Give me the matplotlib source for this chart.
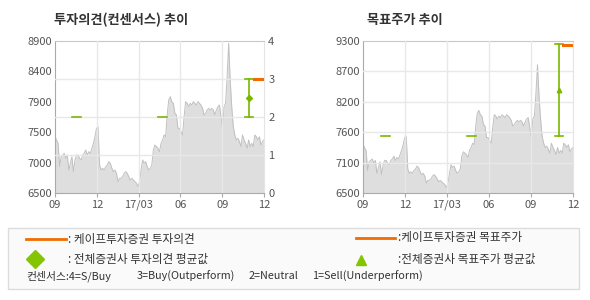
import numpy as np
import matplotlib
matplotlib.use('Agg')
import matplotlib.pyplot as plt
from matplotlib.lines import Line2D
from matplotlib.patches import Rectangle

plt.rcParams['font.family'] = ['Noto Sans CJK KR', 'DejaVu Sans']

# daily close (approx), Sep 2016 - Dec 2017
price = [7389, 7337, 7284, 6916, 7074, 7100, 7126, 7047, 7100, 6863, 6968, 7074, 6837, 7021, 7100,
         7100, 7047, 7021, 7100, 7126, 7179, 7100, 7153, 7126, 7205, 7284, 7389, 7521, 7547, 6942,
         6863, 6889, 6863, 6916, 6942, 6995, 6968, 6889, 6837, 6863, 6811, 6679, 6732, 6732, 6758,
         6811, 6837, 6811, 6758, 6705, 6732, 6705, 6679, 6653, 6600, 6679, 6863,
         7021, 6968, 6995, 6916, 6863, 6889, 6942, 7179, 7258, 7232, 7205, 7153, 7284, 7337, 7416,
         7389, 7732, 7968, 8021, 7942, 7916, 7758, 7732, 7521, 7521, 7468, 7416, 7705, 7942, 7916,
         7863, 7916, 7889, 7942, 7916, 7889, 7942, 7916, 7889, 7837, 7732, 7758, 7810, 7837, 7810,
         7837, 7810, 7732, 7810, 7863, 7889, 7705, 7521, 7863, 7916, 8337, 8863, 8284, 7863, 7547,
         7416, 7337, 7363, 7311, 7232, 7416, 7337, 7284, 7205, 7337, 7232, 7284, 7232, 7416, 7389,
         7337, 7389, 7258, 7311, 7337]

month_ticks = [0, 3, 6, 9, 12, 15]
month_labels = ['09', '12', '17/03', '06', '09', '12']

# left chart
left_ylabels = ['6500', '7000', '7500', '7900', '8400', '8900']
opinion_hist_x = [(1.22, 1.87), (7.39, 8.04)]
opinion_hist = [2, 2]
opinion_x = 13.92
opinion_lo, opinion_hi, opinion_avg = 2, 3, 2.5
kape_opinion_x = (14.28, 14.93)
kape_opinion = 3

# right chart
right_ylabels = ['6500', '7100', '7600', '8200', '8700', '9300']
target_hist_x = [(1.29, 1.93), (7.43, 8.07)]
target_hist = [7550, 7550]
target_x = 14.0
target_lo, target_hi, target_avg = 7550, 9250, 8400
kape_target_x = (14.29, 14.91)
kape_target = 9230

consensus_parts = ['컨센서스:4=S/Buy', '3=Buy(Outperform)', '2=Neutral', '1=Sell(Underperform)']
consensus_pos = [26, 137, 249, 312]

GREEN = '#7ab800'
ORANGE = '#f06c00'
GRID = '#e8e8e8'
TXT = '#555555'

fig = plt.figure(figsize=(5.9, 3.0), dpi=100)
x = np.linspace(0, 15, len(price))


def base_axes(rect, ymin, ymax, ylabels):
    ax = fig.add_axes(rect)
    ax.fill_between(x, ymin, price, color='#dedede', lw=0, zorder=1)
    ax.plot(x, price, color='#c0c0c0', lw=0.7, zorder=2)
    ax.set_xlim(0, 15)
    ax.set_ylim(ymin, ymax)
    ax.set_xticks(month_ticks)
    ax.set_xticklabels(month_labels)
    ax.set_yticks(np.linspace(ymin, ymax, 6))
    ax.set_yticklabels(ylabels)
    for xv in month_ticks[1:-1]:
        ax.axvline(xv, color=GRID, lw=1.0, zorder=3)
    ax.tick_params(axis='both', labelsize=8, colors=TXT, length=3, width=0.8)
    ax.tick_params(axis='y', length=0, pad=2)
    ax.tick_params(axis='x', color='#aaaaaa', pad=2)
    for s in ['left', 'bottom']:
        ax.spines[s].set_color('#aaaaaa')
    ax.spines['top'].set_color('#c8c8c8')
    ax.spines['right'].set_color('#e4e4e4')
    return ax


# ---- left: 투자의견 ----
ax1 = base_axes([55 / 590, 0.3567, 209 / 590, 0.5067], 6500, 8900, left_ylabels)
ax1b = ax1.twinx()
ax1b.set_ylim(0, 4)
ax1b.set_yticks([0, 1, 2, 3, 4])
ax1b.tick_params(axis='y', labelsize=8, colors=TXT, length=0, pad=3)
for s in ax1b.spines.values():
    s.set_visible(False)
for yv in [1, 2, 3]:
    ax1b.axhline(yv, color=GRID, lw=1.0, zorder=3)
for (a, b), v in zip(opinion_hist_x, opinion_hist):
    ax1b.plot([a, b], [v, v], color=GREEN, lw=1.2, zorder=5)
ax1b.plot([opinion_x, opinion_x], [opinion_lo, opinion_hi], color=GREEN, lw=1.2, zorder=5)
for v in [opinion_lo, opinion_hi]:
    ax1b.plot([opinion_x - 0.3, opinion_x + 0.3], [v, v], color=GREEN, lw=1.2, zorder=5)
ax1b.plot([opinion_x], [opinion_avg], marker='D', color=GREEN, ms=3, zorder=6)
ax1b.plot(kape_opinion_x, [kape_opinion, kape_opinion], color=ORANGE, lw=2.2, zorder=6)
ax1b.set_xlim(0, 15)

# ---- right: 목표주가 ----
ax2 = base_axes([363 / 590, 0.3567, 210 / 590, 0.5067], 6500, 9300, right_ylabels)
for yv in np.linspace(6500, 9300, 6)[1:-1]:
    ax2.axhline(yv, color=GRID, lw=1.0, zorder=3)
for (a, b), v in zip(target_hist_x, target_hist):
    ax2.plot([a, b], [v, v], color=GREEN, lw=1.2, zorder=5)
ax2.plot([target_x, target_x], [target_lo, target_hi], color=GREEN, lw=1.2, zorder=5)
for v in [target_lo, target_hi]:
    ax2.plot([target_x - 0.3, target_x + 0.3], [v, v], color=GREEN, lw=1.2, zorder=5)
ax2.plot([target_x], [target_avg], marker='^', color=GREEN, ms=3.2, zorder=6)
ax2.plot(kape_target_x, [kape_target, kape_target], color=ORANGE, lw=2.2, zorder=6)


def px(xp, yp):
    return xp / 590, 1 - yp / 300


# titles
fig.text(*px(54, 20), '투자의견(컨센서스) 추이', fontsize=9.5, fontweight='bold',
         color='#333333', va='center', ha='left')
fig.text(*px(367, 20), '목표주가 추이', fontsize=9.5, fontweight='bold',
         color='#333333', va='center', ha='left')

# legend box
fig.add_artist(Rectangle(px(8, 289), 571 / 590, 61 / 300, transform=fig.transFigure,
                         facecolor='#fafafa', edgecolor='#dcdcdc', lw=1))

fig.add_artist(Line2D([26 / 590, 66 / 590], [1 - 239 / 300] * 2, transform=fig.transFigure,
                      color=ORANGE, lw=2))
fig.add_artist(Line2D([356 / 590, 395 / 590], [1 - 238 / 300] * 2, transform=fig.transFigure,
                      color=ORANGE, lw=2))
fig.add_artist(Line2D([35 / 590], [1 - 259 / 300], transform=fig.transFigure, marker='D',
                      color='#84c400', ms=9, lw=0))
fig.add_artist(Line2D([361 / 590], [1 - 260 / 300], transform=fig.transFigure, marker='^',
                      color='#84c400', ms=7, lw=0))

lg = dict(fontsize=8.4, color='#333333', va='center', ha='left')
fig.text(*px(68, 239), ': 케이프투자증권 투자의견', **lg)
fig.text(*px(68, 259), ': 전체증권사 투자의견 평균값', **lg)
fig.text(*px(398, 238), ':케이프투자증권 목표주가', **lg)
fig.text(*px(398, 259), ':전체증권사 목표주가 평균값', **lg)
for t, xp in zip(consensus_parts, consensus_pos):
    fig.text(*px(xp, 276), t, fontsize=7.8, color='#333333', va='center', ha='left')

fig.savefig('out.png', dpi=100)
